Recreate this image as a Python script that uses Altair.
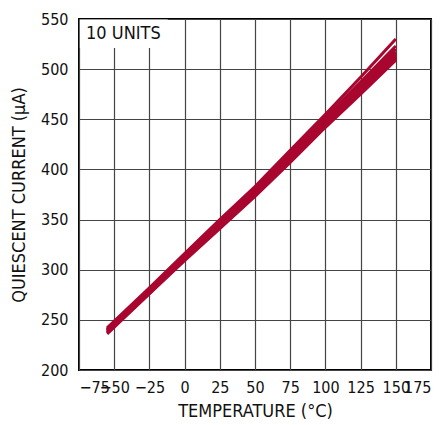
import altair as alt
import pandas as pd

temps = [-55, -25, 0, 25, 50, 75, 100, 125, 150]
unit_values = [
    [242, 282, 316, 350, 383, 419, 455, 492, 530],
    [241, 281, 315, 349, 381, 416, 452, 487, 523],
    [240, 280, 314, 347, 380, 415, 450, 485, 520],
    [240, 279, 313, 346, 379, 414, 449, 483, 517],
    [239, 279, 312, 345, 378, 412, 448, 481, 515],
    [239, 278, 312, 344, 377, 411, 446, 479, 513],
    [238, 277, 311, 343, 376, 410, 445, 478, 512],
    [237, 277, 310, 343, 375, 409, 444, 477, 511],
    [237, 276, 310, 342, 374, 408, 443, 476, 510],
    [236, 276, 309, 341, 373, 407, 442, 475, 509],
]
x_ticks = [-75, -50, -25, 0, 25, 50, 75, 100, 125, 150, 175]
y_ticks = [200, 250, 300, 350, 400, 450, 500, 550]

rows = []
for i, vals in enumerate(unit_values):
    for t, v in zip(temps, vals):
        rows.append({"unit": i + 1, "temp": t, "iq": v})
df = pd.DataFrame(rows)

FONT = "'DejaVu Sans Condensed', 'Liberation Sans', sans-serif"
RED = "#A8062E"

xscale = alt.Scale(domain=[-75, 175], nice=False, zero=False)
yscale = alt.Scale(domain=[200, 550], nice=False, zero=False)

xaxis = alt.Axis(values=x_ticks, title="TEMPERATURE (°C)", grid=True,
                 labelOverlap=False,
                 labelExpr="replace(datum.label, '-', '–')")
yaxis = alt.Axis(values=y_ticks, title="QUIESCENT CURRENT (µA)", grid=True,
                 labelOverlap=False)

lines = alt.Chart(df).mark_line(color=RED, strokeWidth=3, clip=True).encode(
    x=alt.X("temp:Q", scale=xscale, axis=xaxis),
    y=alt.Y("iq:Q", scale=yscale, axis=yaxis),
    detail="unit:N",
)

box_df = pd.DataFrame({"temp": [-74.4], "x2": [-12], "iq": [521], "y2": [549.4]})
box = alt.Chart(box_df).mark_rect(fill="white").encode(
    x=alt.X("temp:Q", scale=xscale, axis=xaxis), x2="x2:Q",
    y=alt.Y("iq:Q", scale=yscale, axis=yaxis), y2="y2:Q",
)

lab_df = pd.DataFrame({"temp": [-70], "iq": [535], "t": ["10 UNITS"]})
label = alt.Chart(lab_df).mark_text(
    align="left", baseline="middle", font=FONT, fontSize=18, color="#111"
).encode(
    x=alt.X("temp:Q", scale=xscale, axis=xaxis),
    y=alt.Y("iq:Q", scale=yscale, axis=yaxis),
    text="t:N",
)

chart = alt.layer(box, label, lines).properties(
    width=352, height=351,
    autosize=alt.AutoSizeParams(type="none"),
    padding={"left": 71, "top": 11, "right": 6, "bottom": 55},
).configure_view(
    stroke="black", strokeWidth=2
).configure_axis(
    domain=False, ticks=False,
    gridColor="#444", gridWidth=1.2, gridOpacity=1,
    labelFont=FONT, labelFontSize=16, labelColor="#111",
    titleFont=FONT, titleFontSize=18, titleFontWeight="normal", titleColor="#111",
).configure_axisX(
    labelPadding=9, titlePadding=7
).configure_axisY(
    labelPadding=11, titlePadding=12
)

chart.save("out.html", embed_options={"renderer": "svg", "actions": False})
